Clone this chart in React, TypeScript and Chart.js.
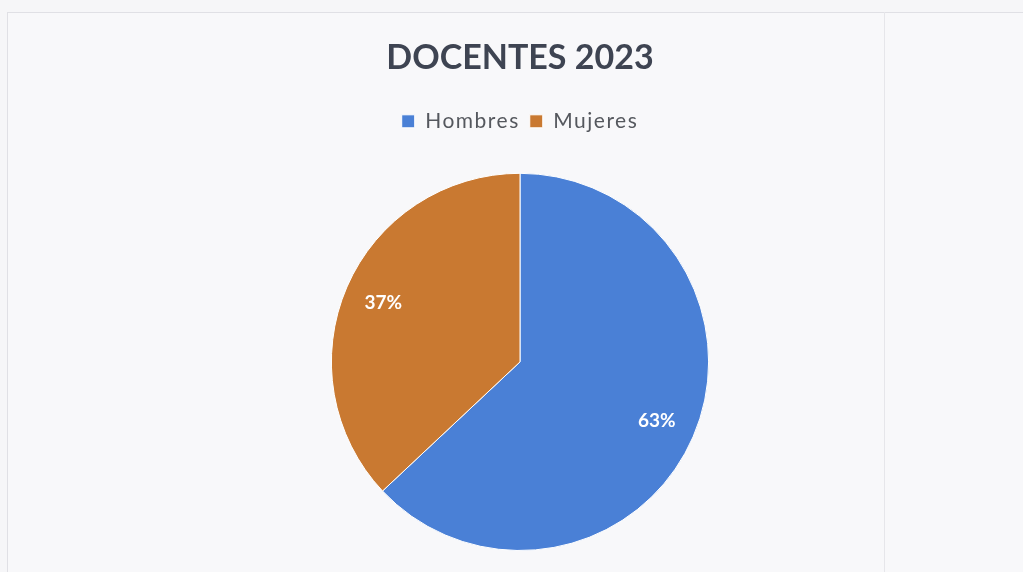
import React, { useEffect, useRef } from "react";
import { Chart, registerables } from "chart.js";

Chart.register(...registerables);

const TITLE = "DOCENTES 2023";
const categories = ["Hombres", "Mujeres"];
const values = [63, 37];
const colors = ["#4a80d6", "#c97931"];

const FONT = "Lato, 'Open Sans', 'DejaVu Sans', sans-serif";

const legendSpacer = {
  id: "legendSpacer",
  beforeInit(chart: any) {
    const lg = chart.legend;
    if (!lg) return;
    const origFit = lg.fit;
    const origDraw = lg.draw;
    lg.fit = function fit() {
      const ctx = this.ctx;
      ctx.save();
      ctx.letterSpacing = "1.5px";
      origFit.call(this);
      ctx.restore();
      this.height += 31;
    };
    lg.draw = function draw() {
      const ctx = this.ctx;
      ctx.save();
      ctx.letterSpacing = "1.5px";
      origDraw.call(this);
      ctx.restore();
    };
  },
};

const pieLabels = {
  id: "pieLabels",
  afterDatasetsDraw(chart: any) {
    const { ctx } = chart;
    const meta = chart.getDatasetMeta(0);
    const data = chart.data.datasets[0].data as number[];
    const total = data.reduce((a, b) => a + b, 0);
    ctx.save();
    ctx.fillStyle = "#ffffff";
    ctx.font = `bold 19px ${FONT}`;
    ctx.textAlign = "center";
    ctx.textBaseline = "middle";
    meta.data.forEach((arc: any, i: number) => {
      const { x, y, startAngle, endAngle, outerRadius } = arc.getProps(
        ["x", "y", "startAngle", "endAngle", "outerRadius"],
        true
      );
      const mid = (startAngle + endAngle) / 2;
      const r = outerRadius * 0.79;
      const pct = Math.round((data[i] / total) * 100) + "%";
      ctx.fillText(pct, x + Math.cos(mid) * r, y + Math.sin(mid) * r);
    });
    ctx.restore();
  },
};

export default function App() {
  const ref = useRef<HTMLCanvasElement | null>(null);

  useEffect(() => {
    if (!ref.current) return;
    const chart = new Chart(ref.current, {
      type: "pie",
      data: {
        labels: categories,
        datasets: [
          {
            data: values,
            backgroundColor: colors,
            borderColor: "#ffffff",
            borderWidth: 1,
          },
        ],
      },
      options: {
        animation: false,
        responsive: false,
        devicePixelRatio: 1,
        layout: { padding: { left: 17, right: 0, top: 0, bottom: 21 } },
        plugins: {
          title: {
            display: true,
            text: TITLE,
            color: "#3e4452",
            font: { family: FONT, size: 34, weight: "bold" },
            padding: { top: 38, bottom: 22 },
          },
          legend: {
            display: true,
            position: "top",
            labels: {
              boxWidth: 13,
              boxHeight: 13,
              padding: 10,
              color: "#55585e",
              font: { family: FONT, size: 21 },
            },
          },
          tooltip: { enabled: false },
        },
      },
      plugins: [legendSpacer, pieLabels],
    });
    return () => chart.destroy();
  }, []);

  return (
    <div
      style={{
        position: "fixed",
        left: 0,
        top: 0,
        width: 1023,
        height: 572,
        background: "#f6f6f8",
        overflow: "hidden",
      }}
    >
      <div
        style={{
          position: "absolute",
          left: 7,
          top: 12,
          width: 1016,
          height: 600,
          borderTop: "1px solid #e0e0e5",
          borderLeft: "1px solid #e0e0e5",
          background: "#f8f8fa",
        }}
      />
      <div
        style={{
          position: "absolute",
          left: 884,
          top: 12,
          width: 1,
          height: 600,
          background: "#e6e6ea",
        }}
      />
      <canvas
        ref={ref}
        width={1023}
        height={572}
        style={{ position: "absolute", left: 0, top: 0, width: 1023, height: 572 }}
      />
    </div>
  );
}
